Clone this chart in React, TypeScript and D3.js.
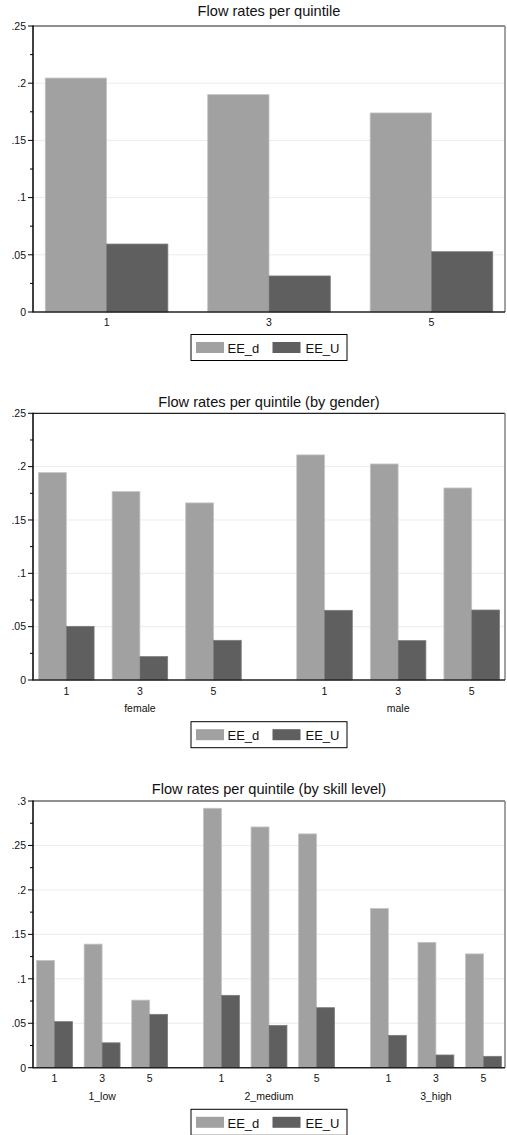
import React from 'react';
import * as d3 from 'd3';

// chart data
const seriesNames = ['EE_d', 'EE_U'];
const seriesColors = ['#a1a1a1', '#5f5f5f'];
const seriesEdges = ['#c4c4c4', '#7c7c7c'];

const quintiles = ['1', '3', '5'];
const genders = ['female', 'male'];
const skills = ['1_low', '2_medium', '3_high'];

const overallEEd = [0.2045, 0.190, 0.174];
const overallEEU = [0.0594, 0.0315, 0.0527];

const genderEEd = [0.1944, 0.1766, 0.166, 0.211, 0.2025, 0.180];
const genderEEU = [0.0503, 0.0219, 0.0372, 0.0653, 0.0369, 0.0656];

const skillEEd = [0.1207, 0.139, 0.076, 0.2918, 0.2708, 0.263, 0.179, 0.141, 0.128];
const skillEEU = [0.0518, 0.028, 0.060, 0.0814, 0.0476, 0.0675, 0.0364, 0.0143, 0.0128];

const yTicks25 = [0, 0.05, 0.1, 0.15, 0.2, 0.25];
const yLabels25 = ['0', '.05', '.1', '.15', '.2', '.25'];
const yTicks30 = [0, 0.05, 0.1, 0.15, 0.2, 0.25, 0.3];
const yLabels30 = ['0', '.05', '.1', '.15', '.2', '.25', '.3'];

const W = 507;
const H = 1135;
const FONT = '"Liberation Sans", Arial, Helvetica, sans-serif';
const LEFT = 33;
const RIGHT = 505;

// Stata-like bar spacing, in bar-width units
const EDGE = 0.2;
const INNER_GAP = 0.65;
const OUTER_GAP = 2;

type PanelProps = {
  title: string;
  groups: string[] | null;
  eed: number[];
  eeu: number[];
  yTicks: number[];
  yLabels: string[];
  top: number;
  bottom: number;
  titleY: number;
  tickY: number;
  groupY: number;
  legendY: number;
};

const Panel = ({ title, groups, eed, eeu, yTicks, yLabels, top, bottom, titleY, tickY, groupY, legendY }: PanelProps) => {
  const yMax = yTicks[yTicks.length - 1];
  const y = d3.scaleLinear().domain([0, yMax]).range([bottom, top]);

  const nGroups = groups ? groups.length : 1;
  const nPer = quintiles.length;

  // place each pair in units
  const pairStart: number[] = [];
  let u = EDGE;
  for (let g = 0; g < nGroups; g++) {
    for (let q = 0; q < nPer; q++) {
      pairStart.push(u);
      u += 2;
      if (q < nPer - 1) u += INNER_GAP;
    }
    if (g < nGroups - 1) u += OUTER_GAP;
  }
  const total = u + EDGE;
  const x = d3.scaleLinear().domain([0, total]).range([LEFT, RIGHT]);
  const bw = x(1) - x(0);

  const minor = d3.range(0.025, yMax, 0.05);
  const midX = (LEFT + RIGHT) / 2;

  const legW = 156;
  const legX = midX - legW / 2;

  return (
    <g>
      <text x={midX} y={titleY} textAnchor="middle" fontSize={14.6} fill="#111">{title}</text>

      {yTicks.slice(1, -1).map(t => (
        <line key={'g' + t} x1={LEFT} x2={RIGHT} y1={y(t)} y2={y(t)} stroke="#e6eeee" strokeWidth={1} />
      ))}

      {pairStart.map((s, i) => (
        <g key={'b' + i}>
          {[eed[i], eeu[i]].map((v, k) => (
            <rect
              key={k}
              x={x(s + k)}
              y={y(v)}
              width={bw}
              height={y(0) - y(v)}
              fill={seriesColors[k]}
              stroke={seriesEdges[k]}
              strokeWidth={0.8}
            />
          ))}
        </g>
      ))}

      <line x1={LEFT} x2={RIGHT} y1={top} y2={top} stroke="#222" strokeWidth={1.2} />
      <line x1={RIGHT} x2={RIGHT} y1={top} y2={bottom} stroke="#8a8a8a" strokeWidth={1.6} />
      <line x1={LEFT} x2={LEFT} y1={top - 0.6} y2={bottom + 0.6} stroke="#000" strokeWidth={1.5} />
      <line x1={LEFT} x2={RIGHT} y1={bottom} y2={bottom} stroke="#222" strokeWidth={1.5} />

      {yTicks.map((t, i) => (
        <g key={'t' + t}>
          <line x1={LEFT - 5} x2={LEFT} y1={y(t)} y2={y(t)} stroke="#000" strokeWidth={1} />
          <text x={LEFT - 7} y={y(t) + 3.8} textAnchor="end" fontSize={10.5} fill="#111">{yLabels[i]}</text>
        </g>
      ))}
      {minor.map(t => (
        <line key={'m' + t} x1={LEFT - 3} x2={LEFT} y1={y(t)} y2={y(t)} stroke="#000" strokeWidth={1} />
      ))}

      {pairStart.map((s, i) => (
        <text key={'x' + i} x={x(s + 1)} y={tickY} textAnchor="middle" fontSize={10.5} fill="#111">
          {quintiles[i % nPer]}
        </text>
      ))}

      {groups && groups.map((gl, g) => (
        <text
          key={'gl' + g}
          x={(x(pairStart[g * nPer]) + x(pairStart[g * nPer + nPer - 1] + 2)) / 2}
          y={groupY}
          textAnchor="middle"
          fontSize={10.5}
          fill="#111"
        >
          {gl}
        </text>
      ))}

      <rect x={legX} y={legendY} width={legW} height={26} fill="#fff" stroke="#000" strokeWidth={1} />
      {seriesNames.map((name, k) => (
        <g key={name}>
          <rect x={legX + 5 + k * 76.5} y={legendY + 7.5} width={28} height={11} fill={seriesColors[k]} />
          <text x={legX + 36.5 + k * 78} y={legendY + 18.5} fontSize={13} fill="#111">{name}</text>
        </g>
      ))}
    </g>
  );
};

const App = () => {
  return (
    <svg
      width={W}
      height={H}
      style={{ position: 'absolute', left: 0, top: 0, background: '#fff', fontFamily: FONT }}
    >
      <Panel
        title="Flow rates per quintile"
        groups={null}
        eed={overallEEd}
        eeu={overallEEU}
        yTicks={yTicks25}
        yLabels={yLabels25}
        top={26}
        bottom={312}
        titleY={16}
        tickY={326}
        groupY={0}
        legendY={334.5}
      />
      <Panel
        title="Flow rates per quintile (by gender)"
        groups={genders}
        eed={genderEEd}
        eeu={genderEEU}
        yTicks={yTicks25}
        yLabels={yLabels25}
        top={413.3}
        bottom={680}
        titleY={407}
        tickY={695}
        groupY={712}
        legendY={721.7}
      />
      <Panel
        title="Flow rates per quintile (by skill level)"
        groups={skills}
        eed={skillEEd}
        eeu={skillEEU}
        yTicks={yTicks30}
        yLabels={yLabels30}
        top={801}
        bottom={1067.7}
        titleY={794}
        tickY={1082}
        groupY={1100}
        legendY={1109.3}
      />
    </svg>
  );
};

export default App;
